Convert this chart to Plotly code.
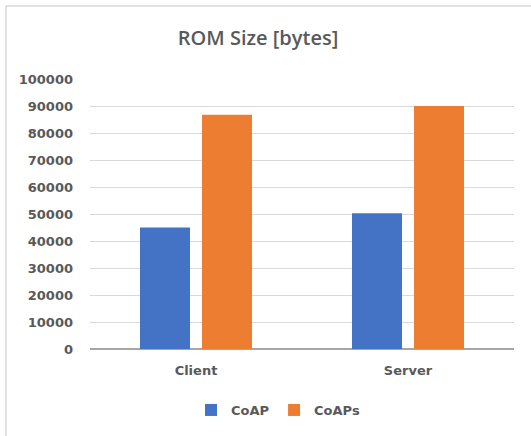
import plotly.graph_objects as go

categories = ["Client", "Server"]
coap = [45000, 50300]
coaps = [86800, 90000]
y_ticks = [0, 10000, 20000, 30000, 40000, 50000, 60000, 70000, 80000, 90000, 100000]

W, H = 531, 436
L, R, T, B = 90, 17, 79, 87
pw, ph = W - L - R, H - T - B

def px_x(x):
    return (x - L) / pw

def px_y(y):
    return (H - B - y) / ph

label_font = dict(family="DejaVu Sans", size=13, color="#595959", weight="bold")

fig = go.Figure()
fig.add_trace(go.Bar(name="CoAP", x=categories, y=coap, marker=dict(color="#4472C4", line=dict(width=0))))
fig.add_trace(go.Bar(name="CoAPs", x=categories, y=coaps, marker=dict(color="#ED7D31", line=dict(width=0))))

fig.update_layout(
    width=W, height=H,
    margin=dict(l=L, r=R, t=T, b=B, autoexpand=False),
    paper_bgcolor="white", plot_bgcolor="white",
    barmode="group", bargap=0.415, bargroupgap=0.194,
    title=dict(text="ROM Size [bytes]", xref="container", x=258 / W, xanchor="center",
               yref="container", y=1 - 38 / H, yanchor="middle",
               font=dict(family="Open Sans", size=20, color="#595959", weight=600)),
    showlegend=True,
    legend=dict(orientation="h", x=px_x(278), xanchor="center", y=px_y(410), yanchor="middle",
                font=label_font, itemwidth=30, traceorder="normal"),
    xaxis=dict(showgrid=False, showline=False, ticks="", tickfont=label_font, ticklabelstandoff=12),
    yaxis=dict(range=[0, 100000], tickvals=y_ticks, tickformat="d", showgrid=True, gridcolor="#D9D9D9",
               gridwidth=1, zeroline=True, zerolinecolor="#A6A6A6", zerolinewidth=1.5, showline=False,
               ticks="", tickfont=label_font, ticklabelstandoff=16),
    shapes=[dict(type="rect", xref="paper", yref="paper", x0=px_x(6), x1=px_x(545), y0=px_y(450), y1=px_y(6),
                 line=dict(color="#D9D9D9", width=1.5), fillcolor="rgba(0,0,0,0)", layer="below")],
)

fig.write_html("out.html", config={"displayModeBar": False},
               post_script="document.body.style.margin='0';")
